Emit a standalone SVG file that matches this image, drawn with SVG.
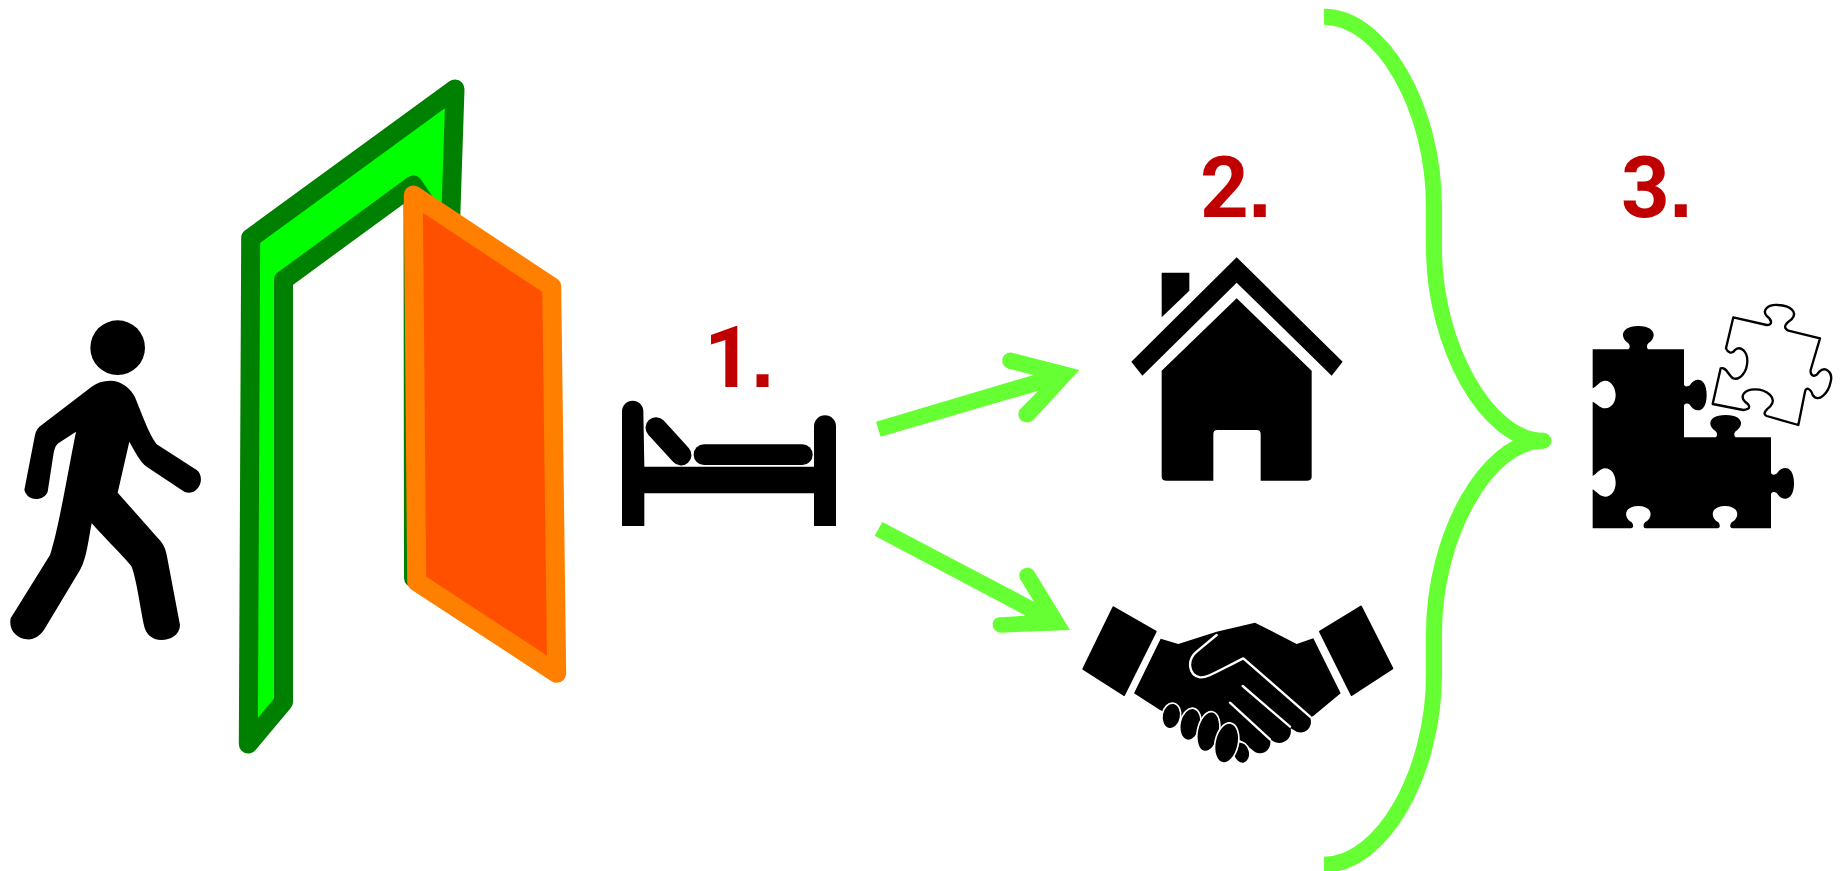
<svg xmlns="http://www.w3.org/2000/svg" width="1841" height="871" viewBox="0 0 1841 871">
<style>
.lbl{font-family:"Liberation Sans",Arial,sans-serif;font-weight:700;font-size:85px;fill:#c00000}
.one{font-family:Roboto,"Liberation Sans",sans-serif}
.ink{fill:#000}
.arrow{fill:#66ff33}
.brace{fill:none;stroke:#66ff33;stroke-width:16}
.frame{stroke:#008000;stroke-width:19;stroke-linejoin:round;stroke-linecap:round}
.gap{fill:none;stroke:#fff;stroke-width:7;stroke-linecap:round;stroke-linejoin:round}
</style>
<rect width="1841" height="871" fill="#fff"/>
<g id="person" transform="translate(0 310) scale(.33333)">
<circle class="ink" cx="353" cy="113" r="82"/>
<path class="ink" d="M330 212C365 212 392 235 405 262C425 310 445 370 470 403L590 480C610 495 605 530 585 542C570 552 555 548 545 540L440 470C420 455 405 425 388 395L353 548L470 680C490 700 498 715 503 750L540 945C540 975 510 990 485 990C455 990 438 970 433 950C420 890 410 810 395 770C385 755 330 700 275 640C265 690 260 745 240 780L135 955C120 980 100 990 80 988C50 985 25 960 32 925L150 735C175 660 205 480 228 365L175 400C165 408 163 420 160 435L143 545C135 570 85 580 73 540L105 375C108 360 115 352 125 345L275 230C290 218 310 212 330 212Z"/>
</g>
<g id="door">
<path class="frame" fill="#00ff00" d="M455 89L250.700 238L248.300 744L283.500 702L283.500 280L413.300 185L450 240Z"/>
<path class="frame" fill="none" d="M413 190L413.500 578"/>
<path d="M413.300 195L551.700 286.700L556.700 673.300L416.700 581.700Z" fill="#ff5000" stroke="#ff8000" stroke-width="19" stroke-linejoin="round"/>
</g>
<g id="bed" transform="translate(600 310) scale(.33333)">
<path class="ink" d="M66 304A32 32 0 0 1 130 304L133 470H642V349A33 33 0 0 1 708 349V648H642V550H133V648H66Z"/>
<path d="M168 353L243 435" stroke="#000" stroke-width="63" stroke-linecap="round"/>
<rect class="ink" x="281" y="403" width="357" height="62" rx="31"/>
</g>
<g id="house" transform="translate(1110 240) scale(.33333)">
<path class="ink" d="M380 52L698 365L665 407L380 128L97 407L64 365Z"/>
<path class="ink" d="M155 98H238V152L155 232Z"/>
<path class="ink" d="M380 175L605 392V710Q605 722 590 722H452V582Q452 570 440 570H322Q310 570 310 582V722H170Q155 722 155 710V392Z"/>
</g>
<g id="handshake" transform="translate(1060 580) scale(.33333)">
<path class="ink" d="M160 82L287 155L192 345L70 267Z" stroke="#000" stroke-width="6" stroke-linejoin="round"/>
<path class="ink" d="M903 80L780 155L875 345L997 265Z" stroke="#000" stroke-width="6" stroke-linejoin="round"/>
<path class="ink" d="M302 176L355 192L470 155L585 128L710 192L760 175L842 340L760 408L750 412C762 440 735 465 710 455L692 445C698 480 665 498 640 484L630 478C638 510 605 532 580 512L540 480L520 480L300 390L222 340Z"/>
<path class="gap" d="M470 165L410 215C380 240 385 285 420 292C440 295 470 275 550 235L750 410"/>
<path class="gap" d="M548 318L690 440"/>
<path class="gap" d="M510 368L630 478"/>
<g fill="#000" stroke="#fff" stroke-width="5">
<ellipse cx="544" cy="518" rx="25" ry="33" transform="rotate(-15 544 518)"/>
<ellipse cx="334" cy="408" rx="28" ry="39" transform="rotate(10 334 408)"/>
<ellipse cx="391" cy="433" rx="31" ry="49" transform="rotate(12 391 433)"/>
<ellipse cx="445" cy="455" rx="33" ry="61" transform="rotate(12 445 455)"/>
<ellipse cx="500" cy="489" rx="35" ry="61" transform="rotate(12 500 489)"/>
</g>
</g>
<g id="puzzle" transform="translate(1570 290) scale(.33333)">
<path class="ink" d="M68 178H172C180 178 182 168 175 160C150 145 150 108 205 108C260 108 260 145 235 160C228 168 230 178 238 178H342V282C342 290 352 292 360 285C375 260 410 260 410 315C410 370 375 370 360 345C352 338 342 340 342 348V442H434C442 442 444 432 437 424C412 409 412 375 467 375C522 375 522 409 497 424C490 432 492 442 500 442H603V547C603 555 613 557 621 550C636 525 672 525 672 580C672 635 636 635 621 610C613 603 603 605 603 613V715H487C480 715 478 705 485 697C510 685 510 648 465 648C420 648 420 685 445 697C452 705 450 715 443 715H227C220 715 218 705 225 697C250 685 250 648 205 648C160 648 160 685 185 697C192 705 190 715 183 715H68V598C80 605 90 620 105 620C125 620 137 600 137 578C137 555 125 535 105 535C90 535 80 552 68 558V335C80 340 90 355 105 355C125 355 137 335 137 315C137 295 125 272 105 272C90 272 80 290 68 295Z"/>
<path fill="#fff" stroke="#000" stroke-width="7" stroke-linejoin="round" d="M490 82L590 105C610 105 605 88 590 78C575 60 595 42 625 45C660 47 685 65 665 88C650 98 635 112 655 122L750 145L722 240C720 258 735 265 748 245C765 228 790 245 782 275C775 310 745 340 728 315C722 295 708 290 705 305L685 405L590 378C575 372 590 358 600 350C625 325 590 298 555 298C520 298 510 320 525 335C540 345 545 358 520 360L428 342L452 235C470 230 475 258 490 265C510 272 532 245 532 212C532 185 512 165 495 180C485 195 472 185 468 175Z"/>
</g>
<g id="connectors">
<path class="arrow" transform="translate(860 340) scale(.33333)" d="M455 38L658 90L520 240C500 258 465 240 478 210L535 152L62 290L48 245L520 105L445 86C415 75 425 35 455 38Z"/>
<path class="arrow" transform="translate(860 340) scale(.33333)" d="M67 546L522 785L482 720C465 690 505 670 522 693L630 870L425 878C390 878 390 832 420 832L497 827L44 587Z"/>
<path class="brace" d="M1324 16.700C1382 16.700 1434 108 1434 207V248C1434 345 1487 440.700 1543.300 440.700"/>
<path class="brace" d="M1324 864.700C1382 864.700 1434 773 1434 674V633C1434 536 1487 440.700 1543.300 440.700"/>
<circle cx="1543.300" cy="440.700" r="8" fill="#66ff33"/>
</g>
<g id="labels">
<text class="lbl" x="704" y="386.700"><tspan class="one">1</tspan><tspan x="750.700">.</tspan></text>
<text class="lbl" x="1200" y="216.700"><tspan class="one">2</tspan><tspan x="1248">.</tspan></text>
<text class="lbl" x="1621" y="216.700"><tspan class="one">3</tspan><tspan x="1669">.</tspan></text>
</g>
</svg>
